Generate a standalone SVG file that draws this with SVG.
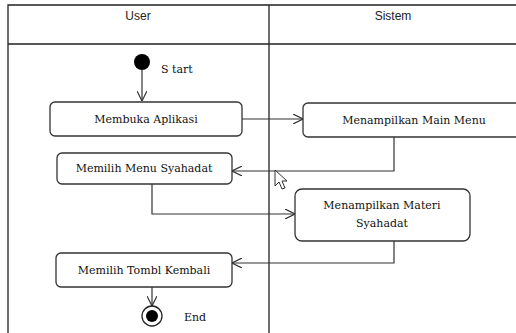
<svg xmlns="http://www.w3.org/2000/svg" width="516" height="333" viewBox="0 0 516 333">
<defs>
<style>
.lane{fill:none;stroke:#222;stroke-width:1.3}
.hdr{font-family:"Liberation Sans",Arial,sans-serif;font-size:12px;fill:#222;text-anchor:middle}
.box{fill:#fff;stroke:#333;stroke-width:1.3}
.lbl{font-family:"DejaVu Serif","Liberation Serif",serif;font-size:11px;fill:#111;text-anchor:middle}
.txt{font-family:"DejaVu Serif","Liberation Serif",serif;font-size:11px;fill:#111}
.edge{fill:none;stroke:#333;stroke-width:1.2}
</style>
<marker id="arr" viewBox="0 0 10 10" refX="10" refY="5" markerWidth="10" markerHeight="10" markerUnits="userSpaceOnUse" orient="auto">
<path d="M0,0 L10,5 L0,10" fill="none" stroke="#333" stroke-width="1.2"/>
</marker>
</defs>
<rect width="516" height="333" fill="#fff"/>
<g id="swimlanes">
<path class="lane" d="M8,333 V5 H516 M8,44 H516 M269,5 V333"/>
<text class="hdr" x="138" y="20">User</text>
<text class="hdr" x="393" y="20">Sistem</text>
</g>
<g id="connectors">
<path class="edge" d="M142,70 V101" marker-end="url(#arr)"/>
<path class="edge" d="M242,119 H303" marker-end="url(#arr)"/>
<path class="edge" d="M394,137 V171 H232" marker-end="url(#arr)"/>
<path class="edge" d="M152,184 V214 H295" marker-end="url(#arr)"/>
<path class="edge" d="M394,241 V263 H232" marker-end="url(#arr)"/>
<path class="edge" d="M152,287 V306" marker-end="url(#arr)"/>
</g>
<g id="start">
<circle cx="142" cy="62" r="8" fill="#000"/>
<text class="txt" x="161" y="73">S tart</text>
</g>
<g id="membuka">
<rect class="box" x="50" y="102" width="192" height="34" rx="5"/>
<text class="lbl" x="146" y="123">Membuka Aplikasi</text>
</g>
<g id="mainmenu">
<rect class="box" x="303" y="103" width="220" height="34" rx="5"/>
<text class="lbl" x="414" y="124">Menampilkan Main Menu</text>
</g>
<g id="memilihmenu">
<rect class="box" x="57" y="153" width="175" height="31" rx="5"/>
<text class="lbl" x="144" y="172">Memilih Menu Syahadat</text>
</g>
<g id="materi">
<rect class="box" x="295" y="189" width="175" height="52" rx="7"/>
<text class="lbl" x="382" y="209">Menampilkan Materi</text>
<text class="lbl" x="382" y="227">Syahadat</text>
</g>
<g id="tombol">
<rect class="box" x="56" y="253" width="176" height="34" rx="5"/>
<text class="lbl" x="144" y="274">Memilih Tombl Kembali</text>
</g>
<g id="end">
<circle cx="152" cy="316" r="10" fill="#fff" stroke="#222" stroke-width="1.3"/>
<circle cx="152" cy="316" r="6" fill="#000"/>
<text class="txt" x="184" y="321">End</text>
</g>
<path d="M275,170 L275,186 L279,182 L282,189 L285,188 L282,181 L287,181 Z" fill="#fff" stroke="#333" stroke-width="1"/>
</svg>
